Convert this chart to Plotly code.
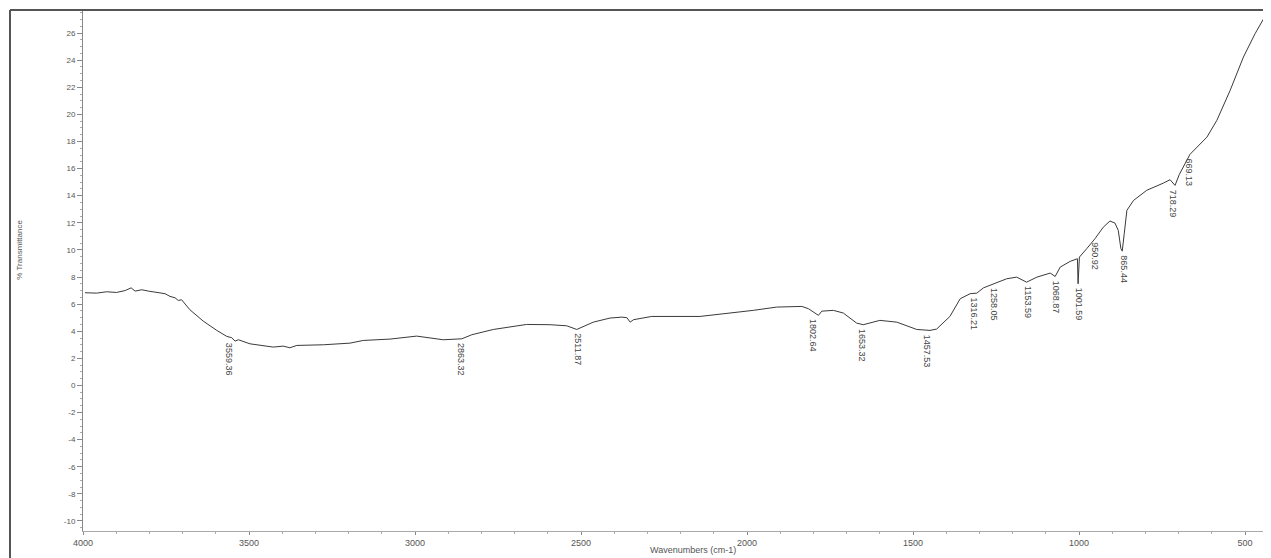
import plotly.graph_objects as go

# Spectrum trace (wavenumber cm-1, %T)
wavenumber = [3994, 3959, 3929, 3899, 3873, 3855, 3843, 3823, 3803, 3778, 3753, 3738, 3723, 3713, 3703,
              3678, 3638, 3597, 3567, 3552, 3542, 3532, 3497, 3427, 3397, 3377, 3356, 3276, 3196, 3156,
              3075, 2995, 2955, 2915, 2859, 2829, 2764, 2664, 2593, 2543, 2513, 2498, 2463, 2413, 2377,
              2362, 2352, 2342, 2287, 2142, 2061, 1981, 1911, 1835, 1815, 1795, 1785, 1775, 1740, 1710,
              1670, 1650, 1630, 1600, 1549, 1489, 1449, 1429, 1389, 1358, 1328, 1308, 1288, 1253, 1218,
              1188, 1158, 1127, 1087, 1072, 1057, 1027, 1005, 1003, 999, 977, 952, 927, 907, 892, 882,
              874, 870, 864, 856, 836, 796, 746, 726, 711, 698, 666, 615, 585, 545, 505, 470, 430]
transmittance = [6.84, 6.81, 6.91, 6.86, 7.00, 7.20, 6.96, 7.06, 6.96, 6.86, 6.77, 6.57, 6.47, 6.27, 6.32,
                 5.58, 4.75, 4.06, 3.62, 3.52, 3.27, 3.37, 3.07, 2.83, 2.90, 2.78, 2.95, 3.00, 3.12, 3.32,
                 3.42, 3.64, 3.49, 3.37, 3.44, 3.74, 4.13, 4.50, 4.48, 4.40, 4.13, 4.30, 4.67, 4.97, 5.04,
                 5.00, 4.67, 4.85, 5.09, 5.09, 5.29, 5.54, 5.78, 5.83, 5.66, 5.29, 5.17, 5.48, 5.54, 5.34,
                 4.60, 4.48, 4.60, 4.80, 4.67, 4.13, 4.06, 4.16, 5.09, 6.40, 6.77, 6.81, 7.20, 7.55, 7.87,
                 7.99, 7.62, 7.99, 8.29, 8.04, 8.73, 9.15, 9.35, 7.50, 9.47, 10.09, 10.83, 11.68, 12.13, 11.98, 11.44,
                 10.09, 9.91, 11.20, 12.92, 13.65, 14.40, 14.93, 15.18, 14.76, 15.57, 17.05, 18.32, 19.56, 21.77, 24.23, 25.95, 27.67]

# Peak labels
peak_wn = [3559.36, 2863.32, 2511.87, 1802.64, 1653.32, 1457.53, 1316.21, 1258.05, 1153.59,
           1068.87, 1001.59, 950.92, 865.44, 718.29, 669.13]
peak_t = [3.45, 3.44, 4.13, 5.20, 4.48, 4.06, 6.81, 7.50, 7.62, 8.04, 7.50, 10.83, 9.91, 14.76, 17.05]
peak_text = ["3559.36", "2863.32", "2511.87", "1802.64", "1653.32", "1457.53", "1316.21", "1258.05",
             "1153.59", "1068.87", "1001.59", "950.92", "865.44", "718.29", "669.13"]

x_ticks = [4000, 3500, 3000, 2500, 2000, 1500, 1000, 500]
y_ticks = list(range(-10, 27, 2))

FONT = "Liberation Sans, Arial, sans-serif"

fig = go.Figure()
fig.add_trace(go.Scatter(x=wavenumber, y=transmittance, mode="lines",
                         line=dict(color="#3a3a3a", width=1), hoverinfo="x+y"))

annotations = []
for w, t, s in zip(peak_wn, peak_t, peak_text):
    annotations.append(dict(x=w, y=t, text=s, showarrow=False, textangle=90,
                            xanchor="center", yanchor="top", yshift=-2,
                            font=dict(family=FONT, size=9, color="#444444")))
annotations.append(dict(xref="paper", yref="paper", x=-63 / 1186, y=0.54, text="% Transmittance",
                        showarrow=False, textangle=-90, xanchor="center", yanchor="middle",
                        font=dict(family=FONT, size=8, color="#555555")))
annotations.append(dict(xref="paper", yref="paper", x=0.514, y=-0.036, text="Wavenumbers (cm-1)",
                        showarrow=False, xanchor="center", yanchor="middle",
                        font=dict(family=FONT, size=9, color="#555555")))

shapes = [
    dict(type="line", xref="paper", yref="paper", x0=-73 / 1186, x1=1.01, y0=1, y1=1,
         line=dict(color="#555555", width=2)),
    dict(type="line", xref="paper", yref="paper", x0=-73 / 1186, x1=-73 / 1186, y0=1, y1=-0.1,
         line=dict(color="#555555", width=2)),
]

# page body has an 8px margin, so the figure is sized/offset to compensate
fig.update_layout(
    width=1263, height=550,
    margin=dict(l=75, r=2, t=2, b=27),
    paper_bgcolor="white", plot_bgcolor="white",
    showlegend=False,
    annotations=annotations,
    shapes=shapes,
    xaxis=dict(range=[4000, 428], tickvals=x_ticks, ticktext=[str(v) for v in x_ticks],
               showgrid=False, zeroline=False, showline=True, linecolor="#aaaaaa", linewidth=1,
               ticks="outside", ticklen=3, tickcolor="#888888",
               minor=dict(dtick=100, ticks="outside", ticklen=2, tickcolor="#aaaaaa"),
               tickfont=dict(family=FONT, size=9, color="#555555")),
    yaxis=dict(range=[-10.74, 27.7], tickvals=y_ticks, ticktext=[str(v) for v in y_ticks],
               showgrid=False, zeroline=False, showline=True, linecolor="#888888", linewidth=1,
               ticks="outside", ticklen=5, tickcolor="#888888",
               minor=dict(dtick=0.5, ticks="outside", ticklen=2, tickcolor="#aaaaaa"),
               tickfont=dict(family=FONT, size=8, color="#555555")),
)

fig.write_html("out.html")
